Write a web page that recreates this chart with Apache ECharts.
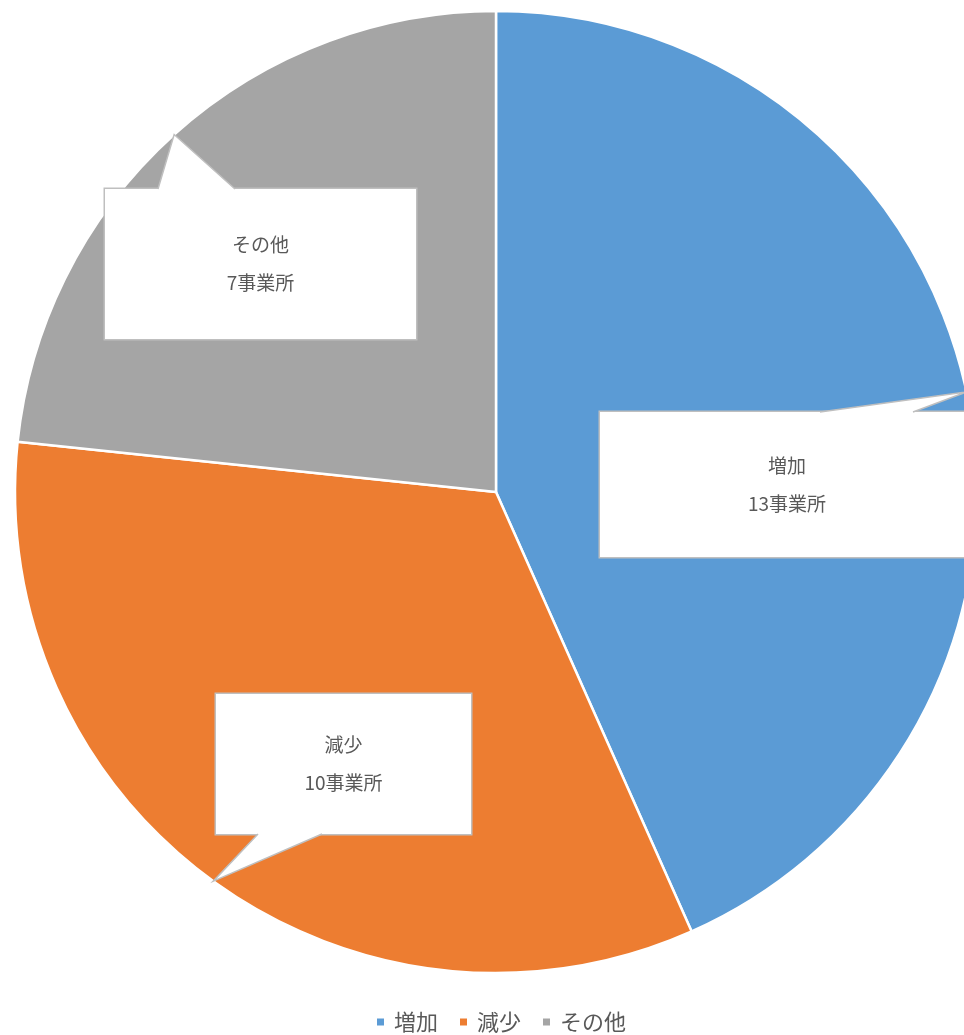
<!DOCTYPE html>
<html>
<head>
<meta charset="utf-8">
<script src="https://cdn.jsdelivr.net/npm/echarts@6/dist/echarts.min.js"></script>
<style>
  html, body { margin: 0; padding: 0; background: #fff; }
  #main { width: 964px; height: 1035px; }
</style>
</head>
<body>
<div id="main"></div>
<script>
// データ
const categories = ['増加', '減少', 'その他']
const counts = [13, 10, 7]
const colors = ['#5b9bd5', '#ed7d31', '#a5a5a5']

// 吹き出しの配置（中心・サイズ・しっぽの根元）
const callouts = [
  { x: 787, y: 484.5, w: 374, h: 145, base: [[33, -72.5], [126, -72.5]] },
  { x: 343.5, y: 764, w: 255, h: 140, base: [[-85.5, 70], [-21.5, 70]] },
  { x: 260.5, y: 264, w: 311, h: 150, base: [[-102.5, -75], [-25.5, -75]] },
]

const font = '"Noto Sans CJK JP", "Noto Sans", sans-serif'
const chart = echarts.init(document.getElementById('main'))

const option = {
  animation: false,
  color: colors,
  legend: {
    data: categories,
    top: 1006,
    left: 370,
    itemWidth: 9,
    itemHeight: 9,
    itemGap: 20,
    icon: 'rect',
    textStyle: { fontFamily: font, fontSize: 22, color: '#595959', padding: [0, 0, 0, 4] },
  },
  series: [
    {
      type: 'pie',
      center: [496, 492],
      radius: 481,
      startAngle: 90,
      clockwise: true,
      avoidLabelOverlap: false,
      itemStyle: { borderColor: '#fff', borderWidth: 2.5 },
      label: {
        show: true,
        position: 'outside',
        formatter: '{b}\n{c}事業所',
        fontFamily: font,
        fontSize: 19,
        lineHeight: 38,
        color: '#595959',
        backgroundColor: '#fff',
        borderColor: '#bfbfbf',
        borderWidth: 1.5,
        align: 'center',
      },
      labelLine: { show: false },
      labelLayout(params) {
        const c = callouts[params.dataIndex]
        return { x: c.x, y: c.y, align: 'center', verticalAlign: 'middle' }
      },
      data: categories.map((name, i) => ({
        name,
        value: counts[i],
        label: {
          width: callouts[i].w,
          padding: [(callouts[i].h - 76) / 2, 0],
        },
      })),
    },
  ],
}

option && chart.setOption(option)

// 吹き出しのしっぽ：先端は扇形の外周・中央角の点
const pieData = chart.getModel().getSeriesByIndex(0).getData()
const tails = []
callouts.forEach((c, i) => {
  const l = pieData.getItemLayout(i)
  const mid = (l.startAngle + l.endAngle) / 2
  const tip = [l.cx + l.r * Math.cos(mid), l.cy + l.r * Math.sin(mid)]
  const a = [c.x + c.base[0][0], c.y + c.base[0][1]]
  const b = [c.x + c.base[1][0], c.y + c.base[1][1]]
  tails.push({
    type: 'polygon',
    z: 100,
    shape: { points: [a, tip, b] },
    style: { fill: '#fff', stroke: null },
  })
  tails.push({
    type: 'polyline',
    z: 101,
    shape: { points: [a, tip, b] },
    style: { stroke: '#bfbfbf', lineWidth: 1.5, fill: null },
  })
})
chart.setOption({ graphic: tails })
</script>
</body>
</html>
